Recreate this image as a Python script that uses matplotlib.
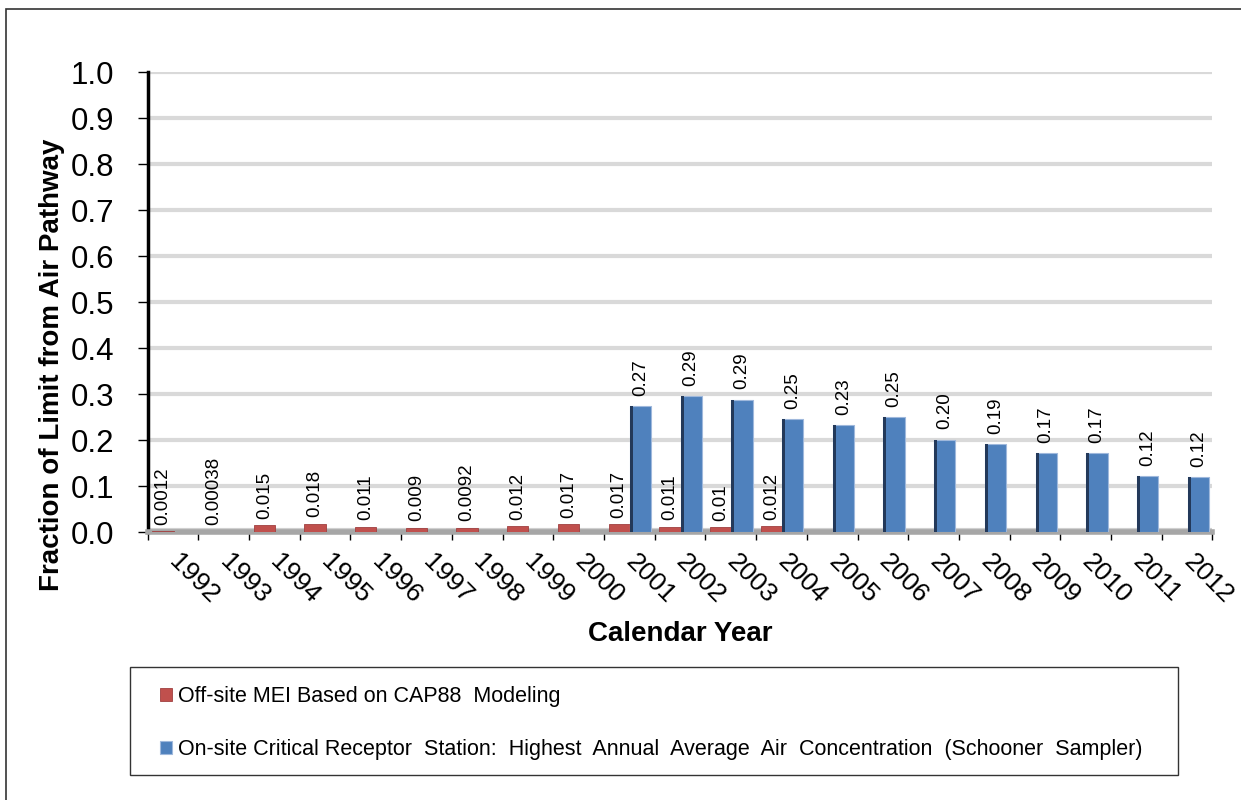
import numpy as np
import matplotlib.pyplot as plt
from matplotlib.patches import Rectangle

years = list(range(1992, 2013))
offsite_years = list(range(1992, 2005))
offsite = [0.0012, 0.00038, 0.015, 0.018, 0.011, 0.009, 0.0092, 0.012, 0.017, 0.017, 0.011, 0.01, 0.012]
offsite_labels = ["0.0012", "0.00038", "0.015", "0.018", "0.011", "0.009", "0.0092", "0.012",
                  "0.017", "0.017", "0.011", "0.01", "0.012"]
onsite_years = list(range(2001, 2013))
onsite = [0.273, 0.295, 0.288, 0.246, 0.232, 0.25, 0.201, 0.191, 0.171, 0.172, 0.122, 0.12]
onsite_labels = ["0.27", "0.29", "0.29", "0.25", "0.23", "0.25", "0.20", "0.19", "0.17", "0.17", "0.12", "0.12"]

plt.rcParams['font.family'] = ['Liberation Sans', 'DejaVu Sans']

W, H = 1241, 800
fig = plt.figure(figsize=(12.41, 8), dpi=100)
ax = fig.add_axes([0.119, 0.335, 0.858, 0.575])

# outer frame
fig.patches.append(Rectangle((6 / W, -0.01), 1.02, 1 - 9 / H + 0.01, transform=fig.transFigure,
                             fill=False, edgecolor='#333333', lw=1.2))
# legend frame
fig.patches.append(Rectangle((130 / W, 1 - 775 / H), (1178 - 130) / W, (775 - 667) / H,
                             transform=fig.transFigure, fill=False, edgecolor='#333333', lw=1.0))

red = '#c0504d'
blue = '#4f81bd'
w = 0.42

xr = np.array([years.index(y) for y in offsite_years]) - 0.2
xb = np.array([years.index(y) for y in onsite_years]) + 0.22

ax.bar(xr, offsite, width=w, color=red, edgecolor='#a04040', lw=0.6, zorder=3,
       label='Off-site MEI Based on CAP88  Modeling')
ax.bar(xb, onsite, width=w, color=blue, edgecolor='#9fb8dc', lw=0.8, zorder=3,
       label='On-site Critical Receptor  Station:  Highest  Annual  Average  Air  Concentration  (Schooner  Sampler)')
# dark left side of blue bars
ax.bar(xb - w / 2 + 0.03, onsite, width=0.06, color='#23395a', lw=0, zorder=4)

for x, v, t in zip(xr, offsite, offsite_labels):
    ax.text(x, v + 0.014, t, rotation=90, ha='center', va='bottom', fontsize=13.5, zorder=5)
for x, v, t in zip(xb, onsite, onsite_labels):
    ax.text(x, v + 0.022, t, rotation=90, ha='center', va='bottom', fontsize=13.5, zorder=5)

ax.set_xlim(-0.5, len(years) - 0.5)
ax.set_ylim(0, 1.0)
ax.set_yticks(np.arange(0, 1.01, 0.1))
ax.set_yticklabels([f"{v:.1f}" for v in np.arange(0, 1.01, 0.1)], fontsize=22.5)
ax.yaxis.grid(True, color='#d9d9d9', lw=3, zorder=0)
ax.set_axisbelow(True)

ax.set_xticks(np.arange(len(years)))
ax.set_xticklabels([str(y) for y in years], rotation=-45, ha='left', va='center',
                   rotation_mode='anchor', fontsize=19)
ax.set_xticks(np.arange(-0.5, len(years)), minor=True)
ax.tick_params(axis='x', which='major', length=0, pad=19)
ax.tick_params(axis='x', which='minor', length=6, width=1, color='black', direction='out')
ax.tick_params(axis='y', length=7, width=1, color='black', pad=17)

for s in ['top', 'right']:
    ax.spines[s].set_visible(False)
ax.spines['left'].set_linewidth(2.5)
ax.spines['left'].set_color('black')
ax.spines['bottom'].set_linewidth(4)
ax.spines['bottom'].set_color('#a6a6a6')
ax.axhline(0.004, color='#d0d0d0', lw=3, zorder=1)

ax.set_ylabel('Fraction of Limit from Air Pathway', fontsize=20, fontweight='bold')
ax.yaxis.set_label_coords(-0.078, 0.363)
ax.set_xlabel('Calendar Year', fontsize=20, fontweight='bold', labelpad=9)

leg = fig.legend(loc='upper left', bbox_to_anchor=(141 / W, 1 - 667 / H), ncol=1,
                 frameon=False, fontsize=15.5,
                 handlelength=0.55, handleheight=0.55, handletextpad=0.3, labelspacing=1.5,
                 borderpad=0.87, borderaxespad=0)

fig.savefig('out.png', dpi=100)
